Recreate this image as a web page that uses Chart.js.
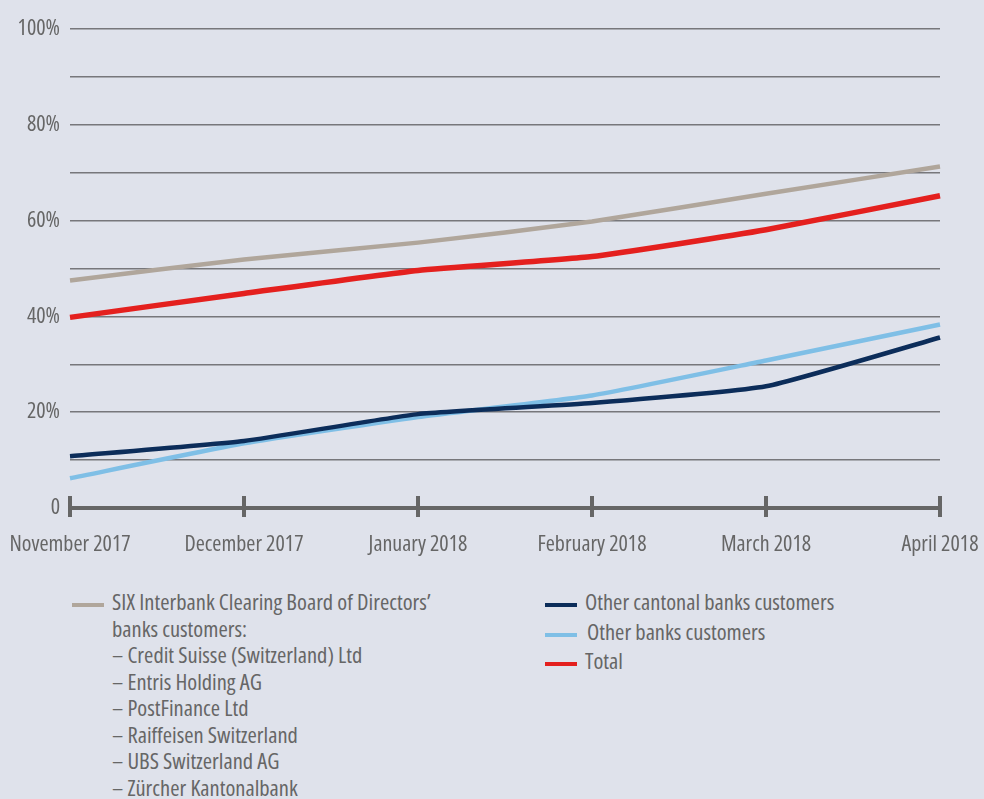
<!DOCTYPE html>
<html>
<head>
<meta charset="utf-8">
<script src="https://cdn.jsdelivr.net/npm/chart.js@4"></script>
<style>
  body { margin: 0; background: #dfe2eb; font-family: "Open Sans", sans-serif; font-stretch: 75%; color: #666; }
  #wrap { position: relative; width: 984px; height: 799px; }
  #chartBox { position: absolute; left: 0; top: 0; width: 984px; height: 570px; }
  .leg { position: absolute; font-size: 22.5px; line-height: 26.5px; color: #666; white-space: nowrap; }
  .sw { position: absolute; width: 32px; height: 4px; }
</style>
</head>
<body>
<div id="wrap">
  <div id="chartBox"><canvas id="myChart"></canvas></div>

  <div class="sw" style="left:72px;top:603px;background:#b0a69b"></div>
  <div class="leg" style="left:112px;top:589px">
    SIX Interbank Clearing Board of Directors’<br>
    banks customers:<br>
    – Credit Suisse (Switzerland) Ltd<br>
    – Entris Holding AG<br>
    – PostFinance Ltd<br>
    – Raiffeisen Switzerland<br>
    – UBS Switzerland AG<br>
    – Zürcher Kantonalbank
  </div>

  <div class="sw" style="left:545px;top:603px;background:#0c2d5a"></div>
  <div class="leg" style="left:585px;top:589px">Other cantonal banks customers</div>
  <div class="sw" style="left:545px;top:633px;background:#7fbfe6"></div>
  <div class="leg" style="left:587px;top:619px">Other banks customers</div>
  <div class="sw" style="left:545px;top:662px;background:#e4201e"></div>
  <div class="leg" style="left:585px;top:648px">Total</div>
</div>

<script>
const months = ['November 2017', 'December 2017', 'January 2018', 'February 2018', 'March 2018', 'April 2018'];
const sixBanks = [47.5, 51.9, 55.4, 59.8, 65.6, 71.3];
const total = [39.8, 44.8, 49.6, 52.5, 58.1, 65.2];
const cantonal = [10.8, 14.0, 19.6, 21.9, 25.4, 35.6];
const otherBanks = [6.2, 13.5, 19.0, 23.5, 30.8, 38.3];

// condensed look: Chart.js puts weight in front of size in the font string
const tickFont = { family: '"Open Sans", sans-serif', size: 22, weight: 'condensed' };

// tick marks crossing the x axis
const axisTicks = {
    id: 'axisTicks',
    afterDraw(chart) {
        const ctx = chart.ctx;
        const xs = chart.scales.x;
        const y = chart.chartArea.bottom;
        ctx.save();
        ctx.strokeStyle = '#666';
        ctx.lineWidth = 4;
        for (let i = 0; i < months.length; i++) {
            const x = xs.getPixelForValue(i);
            ctx.beginPath();
            ctx.moveTo(x, y - 12);
            ctx.lineTo(x, y + 9);
            ctx.stroke();
        }
        ctx.restore();
    }
};

const ctx = document.getElementById('myChart');
new Chart(ctx, {
    type: 'line',
    data: {
        labels: months,
        datasets: [
            { label: 'SIX', data: sixBanks, borderColor: '#b0a69b', borderWidth: 4.5 },
            { label: 'Other cantonal banks customers', data: cantonal, borderColor: '#0c2d5a', borderWidth: 4.5 },
            { label: 'Other banks customers', data: otherBanks, borderColor: '#7fbfe6', borderWidth: 4.5 },
            { label: 'Total', data: total, borderColor: '#e4201e', borderWidth: 5.5 }
        ]
    },
    options: {
        responsive: true,
        maintainAspectRatio: false,
        animation: false,
        layout: { padding: { top: 29, right: 44, left: 0, bottom: 0 } },
        elements: { point: { radius: 0 }, line: { tension: 0.15, borderCapStyle: 'butt' } },
        plugins: { legend: { display: false }, tooltip: { enabled: false } },
        scales: {
            x: {
                offset: false,
                grid: { display: false, drawTicks: false },
                border: { display: true, color: '#666', width: 4 },
                ticks: { color: '#666', font: tickFont, padding: 24, maxRotation: 0, autoSkip: false },
                afterFit(scale) {
                    scale.height = 62;
                    scale.paddingLeft = 0;
                    scale.paddingRight = 0;
                }
            },
            y: {
                min: 0,
                max: 100,
                border: { display: false },
                grid: {
                    drawTicks: false,
                    color: (c) => c.tick.value === 0 ? 'rgba(0,0,0,0)' : '#77777b',
                    lineWidth: 1.5
                },
                ticks: {
                    stepSize: 10,
                    color: '#666',
                    padding: 10,
                    font: tickFont,
                    callback: (v) => v % 20 !== 0 ? '' : (v === 0 ? '0' : v + '%')
                },
                afterFit(scale) { scale.width = 70; }
            }
        }
    },
    plugins: [axisTicks]
});
</script>
</body>
</html>
